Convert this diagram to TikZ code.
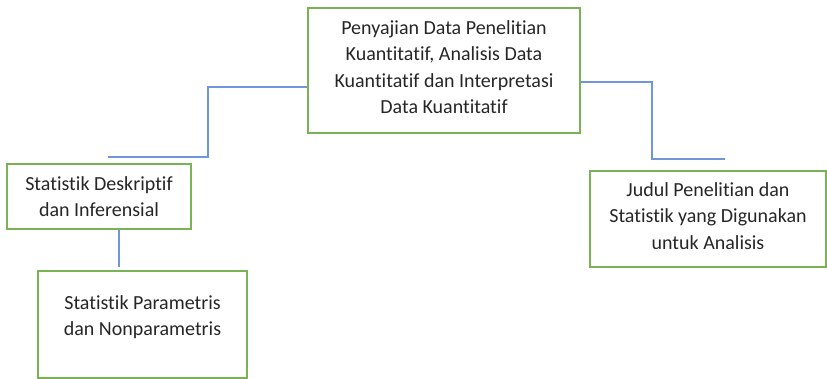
\documentclass[tikz,border=0pt]{standalone}
\usepackage{fontspec}
\setmainfont[Ligatures={NoCommon}]{Carlito}
\definecolor{boxgreen}{HTML}{7AB356}
\definecolor{linkblue}{HTML}{6F95DB}
\tikzset{
  x=1pt,y=1pt,
  box/.style={draw=boxgreen, line width=1.6pt, rectangle, inner sep=0pt},
  txt/.style={align=center, font=\fontsize{20}{26.5}\selectfont, text=black!85, inner sep=0pt},
  link/.style={draw=linkblue, line width=1.8pt}
}
\begin{document}
\begin{tikzpicture}
\useasboundingbox (0,0) rectangle (827,-379);
% top box
\node[box, minimum width=272pt, minimum height=125pt] (top) at (444,-70.5) {};
\node[txt] (toptxt) at (444,-67) {Penyajian Data Penelitian\\Kuantitatif, Analisis Data\\Kuantitatif dan Interpretasi\\Data Kuantitatif};
% left box 1
\node[box, minimum width=184pt, minimum height=65pt] (sd) at (99,-196.5) {};
\node[txt] (sdtxt) at (99,-196.5) {Statistik Deskriptif\\dan Inferensial};
% left box 2
\node[box, minimum width=209pt, minimum height=107pt] (sp) at (142.5,-324.5) {};
\node[txt] (sptxt) at (142.5,-317) {Statistik Parametris\\dan Nonparametris};
% right box
\node[box, minimum width=236pt, minimum height=96pt] (jp) at (708,-219) {};
\node[txt] (jptxt) at (708,-216) {Judul Penelitian dan\\Statistik yang Digunakan\\untuk Analisis};
% free ends
\coordinate (lend) at (108,-157);
\coordinate (rend) at (725,-159);
\coordinate (vend) at (119,-267);
% connectors
\draw[link] (top.west |- 0,-87) -| (208,-157) -- (lend);
\draw[link] (top.east |- 0,-82) -| (652,-159) -- (rend);
\draw[link] (sd.south -| vend) -- (vend);
\end{tikzpicture}
\end{document}
